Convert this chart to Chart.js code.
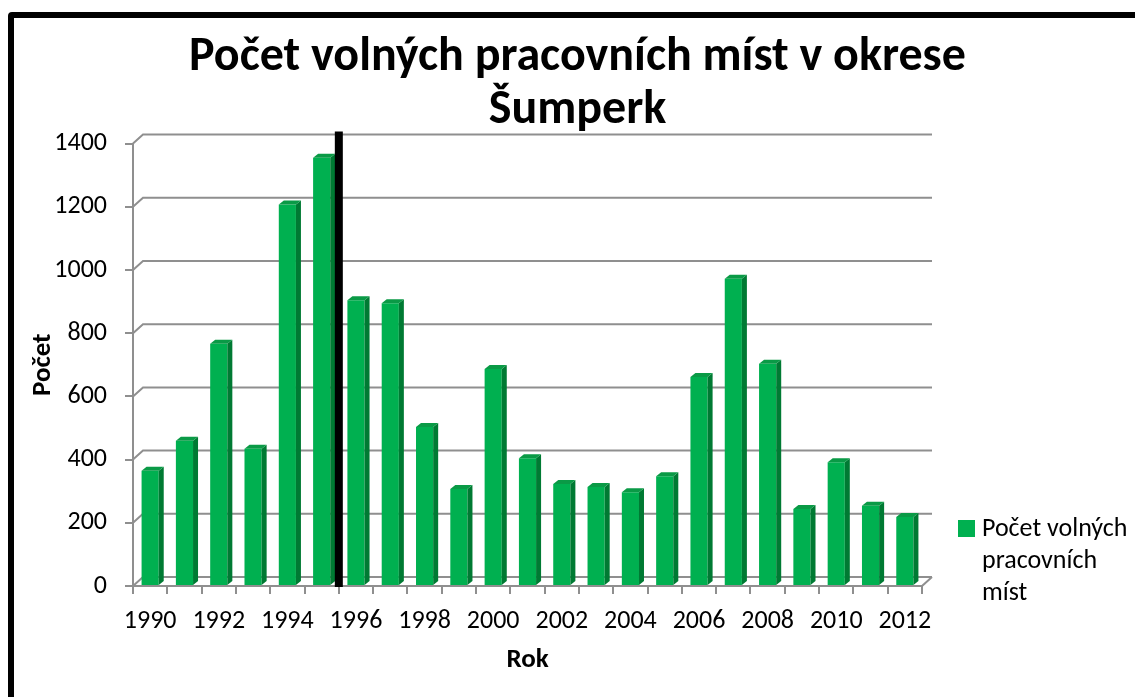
<!DOCTYPE html>
<html>
<head>
<meta charset="utf-8">
<script src="https://cdn.jsdelivr.net/npm/chart.js@4.4.0/dist/chart.umd.min.js"></script>
<style>
  html, body { margin: 0; padding: 0; background: #fff; overflow: hidden; }
  #wrap { position: relative; width: 1135px; height: 697px; }
  #frame { position: absolute; left: 8px; top: 12px; width: 1200px; height: 800px;
           border: 6px solid #000; border-radius: 4px; box-sizing: border-box; }
  canvas { position: absolute; left: 0; top: 0; }
</style>
</head>
<body>
<div id="wrap">
  <div id="frame"></div>
  <canvas id="myChart" width="1135" height="697"></canvas>
</div>
<script>
const years = ['1990','1991','1992','1993','1994','1995','1996','1997','1998','1999','2000',
  '2001','2002','2003','2004','2005','2006','2007','2008','2009','2010','2011','2012'];
const jobs = [365, 460, 767, 434, 1207, 1355, 904, 895, 503, 307, 687,
  404, 323, 313, 297, 347, 661, 972, 703, 244, 392, 254, 218];
const yTicks = [0, 200, 400, 600, 800, 1000, 1200, 1400];
const seriesName = ['Počet volných', 'pracovních', 'míst'];
const chartTitle = ['Počet volných pracovních míst v okrese', 'Šumperk'];

const FONT = "Carlito, Calibri, Lato, sans-serif";
const GRID = '#8f8f8f';
const GREEN = '#00B050';
const DX = 10, DY = -9; // back wall offset

Chart.defaults.font.family = FONT;
Chart.defaults.color = '#000';

const ctx = document.getElementById('myChart');

// back wall grid lines + floor
const wallGrid = {
  id: 'wallGrid',
  beforeDatasetsDraw(chart) {
    const c = chart.ctx;
    const {left, right, bottom} = chart.chartArea;
    const y = chart.scales.y;
    c.save();
    c.strokeStyle = GRID;
    c.lineWidth = 2;
    yTicks.forEach(v => {
      const py = y.getPixelForValue(v);
      c.beginPath();
      c.moveTo(left, py);
      c.lineTo(left + DX, py + DY);
      c.lineTo(right + DX, py + DY);
      c.stroke();
    });
    c.beginPath();
    c.moveTo(right, bottom);
    c.lineTo(right + DX, bottom + DY);
    c.stroke();
    c.restore();
  }
};

// side + top faces of the columns, and the black marker line
const bars3d = {
  id: 'bars3d',
  afterDatasetsDraw(chart) {
    const c = chart.ctx;
    const meta = chart.getDatasetMeta(0);
    const d = 5, h = 4;
    c.save();
    meta.data.forEach(bar => {
      const l = bar.x - bar.width / 2, r = bar.x + bar.width / 2;
      c.fillStyle = '#007A33';
      c.beginPath();
      c.moveTo(r, bar.y); c.lineTo(r + d, bar.y - h);
      c.lineTo(r + d, bar.base - h); c.lineTo(r, bar.base);
      c.closePath(); c.fill();
      c.fillStyle = '#0A9A46';
      c.beginPath();
      c.moveTo(l, bar.y); c.lineTo(l + d, bar.y - h);
      c.lineTo(r + d, bar.y - h); c.lineTo(r, bar.y);
      c.closePath(); c.fill();
    });
    const {top, bottom} = chart.chartArea;
    const mx = (meta.data[5].x + meta.data[6].x) / 2;
    c.strokeStyle = '#000';
    c.lineWidth = 8;
    c.beginPath();
    c.moveTo(mx, top - 12);
    c.lineTo(mx, bottom + 1);
    c.stroke();
    c.restore();
  }
};

// legend on the right, wrapped over three lines
const sideLegend = {
  id: 'sideLegend',
  afterDraw(chart) {
    const c = chart.ctx;
    const x = chart.chartArea.right + 36;
    c.save();
    c.fillStyle = GREEN;
    c.fillRect(x, 520, 17, 17);
    c.fillStyle = '#000';
    c.font = '26px ' + FONT;
    c.textBaseline = 'middle';
    seriesName.forEach((t, i) => c.fillText(t, x + 24, 529 + i * 32));
    c.restore();
  }
};

new Chart(ctx, {
  type: 'bar',
  data: {
    labels: years,
    datasets: [{
      label: seriesName.join(' '),
      data: jobs,
      backgroundColor: GREEN,
      borderWidth: 0,
      barPercentage: 0.5,
      categoryPercentage: 1
    }]
  },
  options: {
    responsive: false,
    devicePixelRatio: 1,
    animation: false,
    layout: { padding: { top: 0, left: 20, right: 0, bottom: 0 } },
    plugins: {
      legend: { display: false },
      tooltip: { enabled: false },
      title: {
        display: true,
        text: chartTitle,
        color: '#000',
        font: { size: 48, weight: 'bold', lineHeight: 1.1 },
        padding: { top: 32, bottom: 6 }
      }
    },
    scales: {
      x: {
        grid: { drawOnChartArea: false, tickLength: 8, color: GRID, lineWidth: 2, offset: true },
        border: { color: GRID, width: 2 },
        ticks: {
          autoSkip: false, maxRotation: 0, padding: 12,
          font: { size: 26 },
          callback: (v, i) => (i % 2 === 0 ? years[i] : '')
        },
        title: { display: true, text: 'Rok', font: { size: 27, weight: 'bold' }, padding: { top: 0, bottom: 21 } },
        afterFit: s => { s.height = 111; }
      },
      y: {
        min: 0,
        max: 1400,
        grid: { drawOnChartArea: false, tickLength: 8, color: GRID, lineWidth: 2 },
        border: { color: GRID, width: 2 },
        ticks: { stepSize: 200, padding: 18, font: { size: 26 }, callback: v => String(v) },
        title: { display: true, text: 'Počet', font: { size: 27, weight: 'bold' }, padding: { top: 7, bottom: 0 } },
        afterFit: s => { s.width = 113; }
      },
      // empty right axis that keeps room for the legend
      side: {
        type: 'linear',
        position: 'right',
        grid: { display: false },
        border: { display: false },
        ticks: { display: false },
        afterFit: s => { s.width = 213; }
      }
    }
  },
  plugins: [wallGrid, bars3d, sideLegend]
});
</script>
</body>
</html>
